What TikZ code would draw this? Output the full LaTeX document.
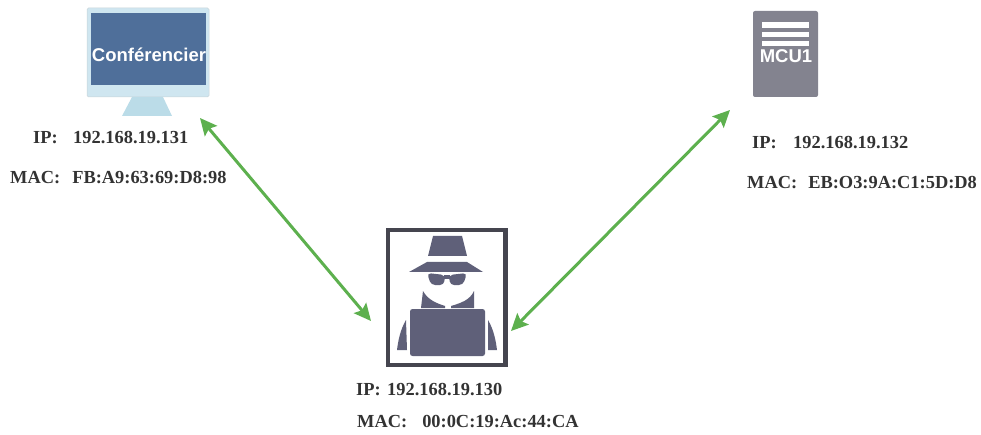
\documentclass[tikz,border=0pt]{standalone}
\usepackage{fontspec}
\setmainfont{Liberation Serif}
\setsansfont{Liberation Sans}
\usetikzlibrary{arrows.meta}
\definecolor{linkgreen}{HTML}{5DB04E}
\definecolor{hackgrey}{HTML}{5F6079}
\definecolor{framegrey}{HTML}{45454F}
\definecolor{screenblue}{HTML}{4F6F9A}
\definecolor{bezelblue}{HTML}{CFE6F0}
\definecolor{standblue}{HTML}{BBDCE8}
\definecolor{servergrey}{HTML}{83838F}
\tikzset{
  addr/.style={font=\bfseries\fontsize{18.4}{20}\selectfont, text=black!80, anchor=west, inner sep=0pt},
  iconlabel/.style={font=\sffamily\bfseries\fontsize{18.5}{20}\selectfont, text=white, inner sep=0pt},
  iconbox/.style={inner sep=0pt, outer sep=0pt, anchor=north west},
  link/.style={draw=linkgreen, line width=3pt, {Stealth[length=17pt,width=16pt,inset=3pt]}-{Stealth[length=17pt,width=16pt,inset=3pt]}}
}
\begin{document}
\begin{tikzpicture}[x=1pt,y=-1pt]
\useasboundingbox (0,0) rectangle (981,435);
% monitor
\node[iconbox, minimum width=122pt, minimum height=108pt] (conf) at (87,8) {};
\filldraw[fill=bezelblue, draw=bezelblue!80!black!60, line width=0.5pt, rounded corners=1.5pt] (87,8) rectangle (209,97);
\fill[screenblue] (91,13) rectangle (206,85);
\fill[standblue] (132,97) -- (163,97) -- (172,116) -- (122,116) -- cycle;
\node[iconlabel] (confname) at (149,55) {Conférencier};
% attacker
\node[iconbox, minimum width=117.5pt, minimum height=135pt, fill=white, draw=framegrey, line width=4.5pt] (hacker) at (388,230) {};
\fill[hackgrey] (433,236) -- (462,236) -- (467,256) -- (428,256) -- cycle;
\fill[hackgrey] (427,262) -- (467,262) -- (483,272) -- (409,272) -- cycle;
\fill[hackgrey, rounded corners=4pt] (427,273) -- (445,275) -- (444,285) -- (431,285) -- cycle;
\fill[hackgrey, rounded corners=4pt] (467,273) -- (449,275) -- (450,285) -- (463,285) -- cycle;
\fill[hackgrey] (444,275) rectangle (450,279);
\fill[hackgrey] (423,291) .. controls (428,300) and (436,303) .. (445,306) -- (445,308) -- (421,308) -- cycle;
\fill[hackgrey] (474,291) .. controls (470,300) and (461,303) .. (451,306) -- (451,308) -- (474,308) -- cycle;
\fill[hackgrey, rounded corners=2.5pt] (410,309) rectangle (485,356);
\fill[hackgrey] (406,320) .. controls (400,330) and (398,342) .. (397,350) -- (407,350) -- cycle;
\fill[hackgrey] (488,320) .. controls (494,330) and (496,342) .. (497,350) -- (488,350) -- cycle;
% server
\node[iconbox, minimum width=65pt, minimum height=86pt, fill=servergrey, rounded corners=2pt] (mcu) at (753,11) {};
\fill[white] (762,22) rectangle (809,28);
\fill[white] (762,32) rectangle (809,37);
\fill[white] (762,41) rectangle (809,46);
\node[iconlabel] (mcuname) at (786,56) {MCU1};
% addresses
\node[addr] (confip) at (33,138) {IP:\hspace{15.5pt}192.168.19.131};
\node[addr] (confmac) at (10,178) {MAC:\hspace{12pt}FB:A9:63:69:D8:98};
\node[addr] (mcuip) at (752,143) {IP:\hspace{16.5pt}192.168.19.132};
\node[addr] (mcumac) at (747,183) {MAC:\hspace{11pt}EB:O3:9A:C1:5D:D8};
\node[addr] (hackip) at (356,390) {IP:\hspace{6.5pt}192.168.19.130};
\node[addr] (hackmac) at (357,422) {MAC:\hspace{15pt}00:0C:19:Ac:44:CA};
% links
\draw[link] ([xshift=-9pt,yshift=-2pt]conf.south east) -- ([xshift=-17pt,yshift=-23.5pt]hacker.west);
\draw[link] ([xshift=5.5pt,yshift=34pt]hacker.south east) -- ([xshift=-23pt,yshift=-13pt]mcu.south west);
\end{tikzpicture}
\end{document}
